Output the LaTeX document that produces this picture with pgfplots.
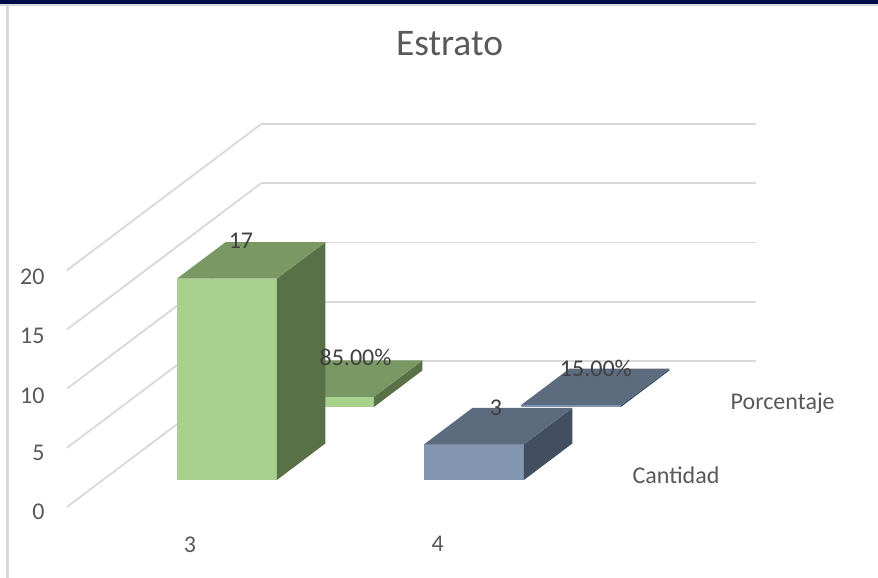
\documentclass[border=0pt]{standalone}
\usepackage{pgfplots}
\pgfplotsset{compat=1.18}
\usepackage{fontspec}
\setmainfont{Carlito}
\definecolor{gridc}{HTML}{D9D9D9}
\definecolor{lab}{HTML}{595959}
\definecolor{dlab}{HTML}{404040}
\definecolor{gf}{HTML}{A9D18E}
\definecolor{gs}{HTML}{597146}
\definecolor{gt}{HTML}{7A9864}
\definecolor{bf}{HTML}{8497B0}
\definecolor{bs}{HTML}{414F61}
\definecolor{bt}{HTML}{5D6B7F}
% x0 x1 y0 y1 h front side top
\newcommand{\barbox}[8]{%
  \addplot3[fill=#6,draw=none,no marks,forget plot] coordinates {(#1,#3,0) (#2,#3,0) (#2,#3,#5) (#1,#3,#5)} -- cycle;
  \addplot3[fill=#7,draw=none,no marks,forget plot] coordinates {(#2,#3,0) (#2,#4,0) (#2,#4,#5) (#2,#3,#5)} -- cycle;
  \addplot3[fill=#8,draw=none,no marks,forget plot] coordinates {(#1,#3,#5) (#2,#3,#5) (#2,#4,#5) (#1,#4,#5)} -- cycle;
}
\begin{document}
\begin{tikzpicture}[x=1pt,y=1pt]
\path[use as bounding box] (0,0) rectangle (878,578);
\fill[white] (0,0) rectangle (878,578);
\fill[gridc] (0,572) rectangle (878,574);
\fill[gridc] (6,0) rectangle (8.5,574);
\fill[fill={rgb,255:red,0;green,12;blue,72}] (0,574) rectangle (878,578);
\begin{axis}[
  anchor=origin, at={(67pt,71pt)},
  x={(247.5pt,0pt)}, y={(97pt,73pt)}, z={(0pt,11.84pt)},
  xmin=0,xmax=2,ymin=0,ymax=2,zmin=0,zmax=20,
  clip=false,
  axis line style={draw=none},
  tick style={draw=none},
  xmajorgrids=false,ymajorgrids=false,zmajorgrids=true,
  major grid style={gridc,line width=1.8pt},
  xtick={0.5,1.5},xticklabels={3,4},
  ytick={0.475,1.525},yticklabels={Cantidad,Porcentaje},
  ztick={0,5,10,15,20},
  /pgf/number format/assume math mode=true,
  ticklabel style={font=\fontsize{24}{26}\selectfont,text=lab},
  x tick label style={xshift=5pt,yshift=-26pt},
  y tick label style={xshift=41pt,yshift=24.5pt},
  z tick label style={xshift=-19pt,yshift=-1.5pt},
]
\barbox{0.299}{0.703}{1.37}{1.87}{0.85}{gf}{gs}{gt}
\barbox{1.297}{1.701}{1.37}{1.87}{0.15}{bf}{bs}{bt}
\barbox{0.299}{0.703}{0.37}{0.87}{17}{gf}{gs}{gt}
\barbox{1.297}{1.701}{0.37}{0.87}{3}{bf}{bs}{bt}
\node[font=\fontsize{24}{26}\selectfont,text=dlab,yshift=1pt] at (axis cs:0.362,0.87,17) {17};
\node[font=\fontsize{24}{26}\selectfont,text=dlab,yshift=3pt] at (axis cs:0.433,1.87,0.85) {85.00\%};
\node[font=\fontsize{24}{26}\selectfont,text=dlab] at (axis cs:1.392,0.87,3) {3};
\node[font=\fontsize{24}{26}\selectfont,text=dlab] at (axis cs:1.404,1.87,0.15) {15.00\%};
\end{axis}
\node[font=\fontsize{37.5}{40}\selectfont,text=lab] at (449.5,534.5) {Estrato};
\end{tikzpicture}
\end{document}
